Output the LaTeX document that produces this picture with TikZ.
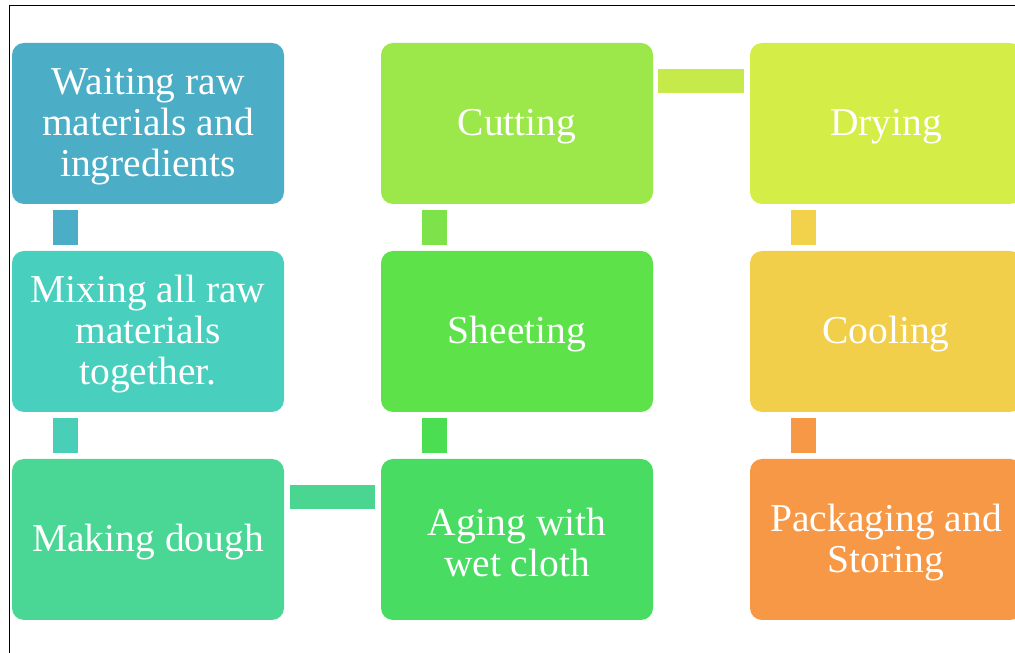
\documentclass[tikz,border=0pt]{standalone}
\usepackage{fontspec}
\setmainfont{Liberation Serif}
\begin{document}
\begin{tikzpicture}[x=1pt,y=1pt,
  box/.style={rectangle, rounded corners=12pt, fill=#1, draw=none, minimum width=272pt, minimum height=161pt, inner sep=0pt},
  boxtext/.style={text=white, align=center, font=\fontsize{39.5}{41}\selectfont, inner sep=0pt, yshift=-3pt},
  conn/.style={line width=25pt, draw=#1},
  hconn/.style={line width=24pt, draw=#1}]
\definecolor{cA}{HTML}{4BADC6}
\definecolor{cB}{HTML}{49CFBD}
\definecolor{cC}{HTML}{4AD694}
\definecolor{cD}{HTML}{48DC62}
\definecolor{cE}{HTML}{5EE24A}
\definecolor{cF}{HTML}{9CE84A}
\definecolor{cG}{HTML}{D5ED47}
\definecolor{cH}{HTML}{F2CF4A}
\definecolor{cI}{HTML}{F79846}
\definecolor{kA}{HTML}{4BADC6}
\definecolor{kB}{HTML}{49CFB8}
\definecolor{kC}{HTML}{4AD690}
\definecolor{kD}{HTML}{4CDE52}
\definecolor{kE}{HTML}{7EE34A}
\definecolor{kF}{HTML}{C5EA4A}
\definecolor{kG}{HTML}{F2D24A}
\definecolor{kH}{HTML}{F79846}
\useasboundingbox (0,0) rectangle (1015,653);
\begin{scope}
\clip (0,0) rectangle (1015,653);
\draw[line width=1.5pt] (9.5,0) -- (9.5,647.5) -- (1020,647.5);
\node[box=cA, label={[boxtext]center:{Waiting raw\\materials and\\ingredients}}] (b1) at (148,529.5) {};
\node[box=cB, label={[boxtext]center:{Mixing all raw\\materials\\together.}}] (b2) at (148,321.5) {};
\node[box=cC, label={[boxtext]center:{Making dough}}] (b3) at (148,113.5) {};
\node[box=cD, label={[boxtext]center:{Aging with\\wet cloth}}] (b4) at (517,113.5) {};
\node[box=cE, label={[boxtext]center:{Sheeting}}] (b5) at (517,321.5) {};
\node[box=cF, label={[boxtext]center:{Cutting}}] (b6) at (517,529.5) {};
\node[box=cG, label={[boxtext]center:{Drying}}] (b7) at (886,529.5) {};
\node[box=cH, label={[boxtext]center:{Cooling}}] (b8) at (886,321.5) {};
\node[box=cI, label={[boxtext]center:{Packaging and\\Storing}}] (b9) at (886,113.5) {};
\draw[conn=kA] ([xshift=53.5pt,yshift=-6pt]b1.south west) -- ([xshift=53.5pt,yshift=6pt]b2.north west);
\draw[conn=kB] ([xshift=53.5pt,yshift=-6pt]b2.south west) -- ([xshift=53.5pt,yshift=6pt]b3.north west);
\draw[hconn=kC] ([xshift=6pt,yshift=-38pt]b3.north east) -- ([xshift=-6pt,yshift=-38pt]b4.north west);
\draw[conn=kD] ([xshift=53.5pt,yshift=6pt]b4.north west) -- ([xshift=53.5pt,yshift=-6pt]b5.south west);
\draw[conn=kE] ([xshift=53.5pt,yshift=6pt]b5.north west) -- ([xshift=53.5pt,yshift=-6pt]b6.south west);
\draw[hconn=kF] ([xshift=5pt,yshift=-38pt]b6.north east) -- ([xshift=-6pt,yshift=-38pt]b7.north west);
\draw[conn=kG] ([xshift=53.5pt,yshift=-6pt]b7.south west) -- ([xshift=53.5pt,yshift=6pt]b8.north west);
\draw[conn=kH] ([xshift=53.5pt,yshift=-6pt]b8.south west) -- ([xshift=53.5pt,yshift=6pt]b9.north west);
\end{scope}
\end{tikzpicture}
\end{document}
